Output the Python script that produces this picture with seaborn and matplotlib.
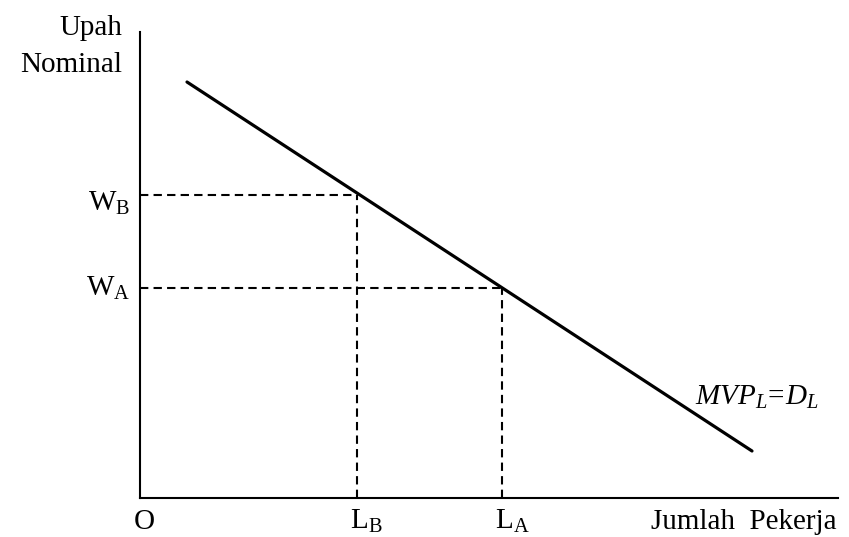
import matplotlib
matplotlib.use("Agg")
import matplotlib.pyplot as plt
import seaborn as sns
import pandas as pd

# Labour demand curve (MVP_L = D_L) and two wage/employment points
labour = [47, 612]
wage = [416, 47]
wage_levels = {"B": 303, "A": 210}
labour_levels = {"B": 217, "A": 362}

sns.set_style("white")
plt.rcParams["font.family"] = ["Liberation Serif", "DejaVu Serif"]
plt.rcParams["text.color"] = "black"
plt.rcParams["mathtext.fontset"] = "custom"
plt.rcParams["mathtext.rm"] = "Liberation Serif"
plt.rcParams["mathtext.it"] = "Liberation Serif:italic"
plt.rcParams["mathtext.bf"] = "Liberation Serif:bold"

fig = plt.figure(figsize=(8.49, 5.37), dpi=100)
ax = fig.add_axes([140 / 849, 1 - 498 / 537, 698 / 849, 466 / 537])

df = pd.DataFrame({"L": labour, "W": wage})
sns.lineplot(data=df, x="L", y="W", ax=ax, color="black", linewidth=2.3, sort=False)

dash_kw = dict(color="black", linewidth=1.5, dashes=(4, 2.5))
for key in ("B", "A"):
    w = wage_levels[key]
    l = labour_levels[key]
    ax.plot([0, l], [w, w], **dash_kw)
    ax.plot([l, l], [0, w], **dash_kw)

ax.set_xlim(0, 698)
ax.set_ylim(0, 466)
ax.set_xticks([])
ax.set_yticks([])
ax.set_xlabel("")
ax.set_ylabel("")
sns.despine(ax=ax)
for side in ("left", "bottom"):
    ax.spines[side].set_linewidth(1.5)
    ax.spines[side].set_color("black")

fs = 21
# wage labels on the vertical axis
ax.annotate(r"$\mathrm{W_B}$", xy=(0, wage_levels["B"]), xytext=(-10, -16),
            textcoords="offset pixels", ha="right", va="baseline", fontsize=fs)
ax.annotate(r"$\mathrm{W_A}$", xy=(0, wage_levels["A"]), xytext=(-10, -8),
            textcoords="offset pixels", ha="right", va="baseline", fontsize=fs)

# employment labels on the horizontal axis
base = -31
for key in ("B", "A"):
    ax.annotate(r"$\mathrm{L_%s}$" % key, xy=(labour_levels[key], 0), xytext=(-7, base),
                textcoords="offset pixels", ha="left", va="baseline", fontsize=fs)
ax.annotate("O", xy=(0, 0), xytext=(4, base), textcoords="offset pixels",
            ha="center", va="baseline", fontsize=fs)
ax.annotate("Jumlah  Pekerja", xy=(698, 0), xytext=(-1, base), textcoords="offset pixels",
            ha="right", va="baseline", fontsize=fs)

# curve label
ax.annotate(r"$MVP_L\!=\!D_L$", xy=(555, 93), xytext=(0, 0), textcoords="offset pixels",
            ha="left", va="baseline", fontsize=fs)

# axis title
fig.text(122 / 849, 1 - 35 / 537, "Upah", ha="right", va="baseline", fontsize=fs)
fig.text(122 / 849, 1 - 72 / 537, "Nominal", ha="right", va="baseline", fontsize=fs)

fig.savefig("out.png", dpi=100)
